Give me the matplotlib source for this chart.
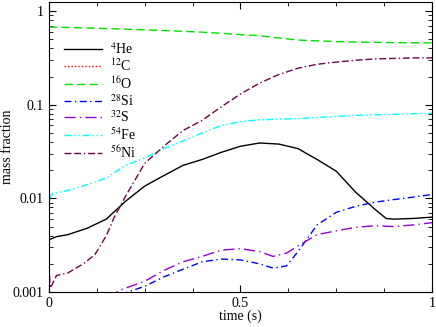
import numpy as np
import matplotlib
matplotlib.use("Agg")
import matplotlib.pyplot as plt
from matplotlib.ticker import FixedLocator, FuncFormatter, LogLocator

plt.rcParams['font.family'] = ['Liberation Serif', 'DejaVu Serif']
plt.rcParams['mathtext.fontset'] = 'stix'
plt.rcParams['font.size'] = 10

# mass fractions
t_he = [0, 0.02, 0.05, 0.1, 0.15, 0.2, 0.25, 0.3, 0.35, 0.4, 0.45, 0.5, 0.55,
        0.6, 0.65, 0.7, 0.75, 0.8, 0.85, 0.88, 0.9, 0.95, 1.0]
he4 = [0.0036, 0.0039, 0.0041, 0.0048, 0.0060, 0.0093, 0.0135, 0.0175, 0.0225,
       0.026, 0.031, 0.036, 0.039, 0.038, 0.034, 0.026, 0.0195, 0.0117, 0.0077,
       0.0061, 0.006, 0.0061, 0.0063]

t_c = [0, 0.5, 1.0]
c12 = [0.0002, 0.00015, 0.0001]

t_o = [0, 0.1, 0.2, 0.3, 0.4, 0.45, 0.5, 0.55, 0.6, 0.65, 0.7, 0.75, 0.8,
       0.85, 0.9, 1.0]
o16 = [0.675, 0.66, 0.64, 0.62, 0.595, 0.579, 0.56, 0.545, 0.515, 0.49, 0.48,
       0.472, 0.466, 0.463, 0.46, 0.457]

t_si = [0, 0.15, 0.2, 0.25, 0.3, 0.35, 0.4, 0.45, 0.5, 0.55, 0.585, 0.62,
        0.65, 0.7, 0.75, 0.8, 0.85, 0.9, 0.95, 1.0]
si28 = [0.0006, 0.0007, 0.00098, 0.00115, 0.00145, 0.00175, 0.0021, 0.00225,
        0.0022, 0.002, 0.0018, 0.0019, 0.0027, 0.0052, 0.0071, 0.0082, 0.0091,
        0.0097, 0.0103, 0.011]

t_s = [0, 0.15, 0.18, 0.2, 0.25, 0.3, 0.35, 0.4, 0.45, 0.5, 0.55, 0.585, 0.62,
       0.65, 0.7, 0.75, 0.8, 0.85, 0.9, 0.95, 1.0]
s32 = [0.0006, 0.0008, 0.00102, 0.0011, 0.0013, 0.0017, 0.0021, 0.0024,
       0.0028, 0.0029, 0.0027, 0.0024, 0.0026, 0.0031, 0.0041, 0.0045, 0.0049,
       0.0051, 0.005, 0.0052, 0.0055]

t_fe = [0, 0.01, 0.05, 0.1, 0.15, 0.2, 0.25, 0.3, 0.35, 0.4, 0.45, 0.5, 0.55,
        0.6, 0.65, 0.7, 0.75, 0.8, 0.85, 0.9, 0.95, 1.0]
fe54 = [0.0098, 0.0112, 0.0122, 0.0140, 0.0165, 0.0225, 0.027, 0.034, 0.041,
        0.050, 0.060, 0.066, 0.069, 0.070, 0.071, 0.073, 0.075, 0.077, 0.078,
        0.079, 0.080, 0.081]

t_ni = [0, 0.004, 0.02, 0.05, 0.09, 0.12, 0.15, 0.17, 0.2, 0.25, 0.3, 0.35,
        0.4, 0.45, 0.5, 0.55, 0.6, 0.65, 0.7, 0.75, 0.8, 0.85, 0.9, 0.95, 1.0]
ni56 = [0.0019, 0.0011, 0.0015, 0.0016, 0.0020, 0.0025, 0.0040, 0.0062, 0.0105,
        0.0236, 0.036, 0.053, 0.068, 0.095, 0.13, 0.17, 0.21, 0.245, 0.27,
        0.285, 0.298, 0.308, 0.312, 0.316, 0.316]

fig = plt.figure(figsize=(4.36, 3.27), dpi=100)
ax = fig.add_axes([0.112, 0.107, 0.879, 0.887])

lw = 1.0
ax.plot(t_he, he4, color='black', lw=lw, label=r'$^{4}$He')
ax.plot(t_c, c12, color='red', lw=lw, ls=(0, (1, 1.5)), label=r'$^{12}$C')
ax.plot(t_o, o16, color='#00e000', lw=lw, ls=(0, (6, 3)), label=r'$^{16}$O')
ax.plot(t_si, si28, color='blue', lw=lw, ls=(0, (5, 2.5, 1, 2.5)), label=r'$^{28}$Si')
ax.plot(t_s, s32, color='#9400d3', lw=lw, ls=(0, (8, 3, 1, 3)), label=r'$^{32}$S')
ax.plot(t_fe, fe54, color='cyan', lw=lw, ls=(0, (5, 2, 1, 2, 1, 2)), label=r'$^{54}$Fe')
ax.plot(t_ni, ni56, color='#670748', lw=lw, ls=(0, (5, 2, 5, 2, 1, 2)), label=r'$^{56}$Ni')

ax.set_yscale('log')
ax.set_xlim(0, 1)
ax.set_ylim(0.001, 1.25)
ax.xaxis.set_major_locator(FixedLocator([0, 0.5, 1]))
ax.xaxis.set_minor_locator(FixedLocator(np.arange(0, 1.01, 0.125)))
ax.xaxis.set_major_formatter(FuncFormatter(lambda v, p: '%g' % v))
ax.yaxis.set_major_locator(FixedLocator([0.001, 0.01, 0.1, 1]))
ax.yaxis.set_minor_locator(LogLocator(base=10, subs=np.arange(2, 10)))
ax.yaxis.set_major_formatter(FuncFormatter(lambda v, p: '%g' % v))
ax.tick_params(which='both', direction='in', top=True, right=True)
ax.tick_params(which='major', length=5, labelsize=10)
ax.tick_params(which='minor', length=2.8)

ax.set_xlabel('time (s)', labelpad=0)
ax.set_ylabel('mass fraction')
ax.yaxis.set_label_coords(-0.092, 0.5)

ax.legend(loc='upper left', bbox_to_anchor=(0.147, 0.875), bbox_transform=fig.transFigure,
          frameon=False, handlelength=2.7, handletextpad=0.6, labelspacing=0.07,
          borderpad=0, borderaxespad=0)

fig.savefig('out.png', dpi=100)
